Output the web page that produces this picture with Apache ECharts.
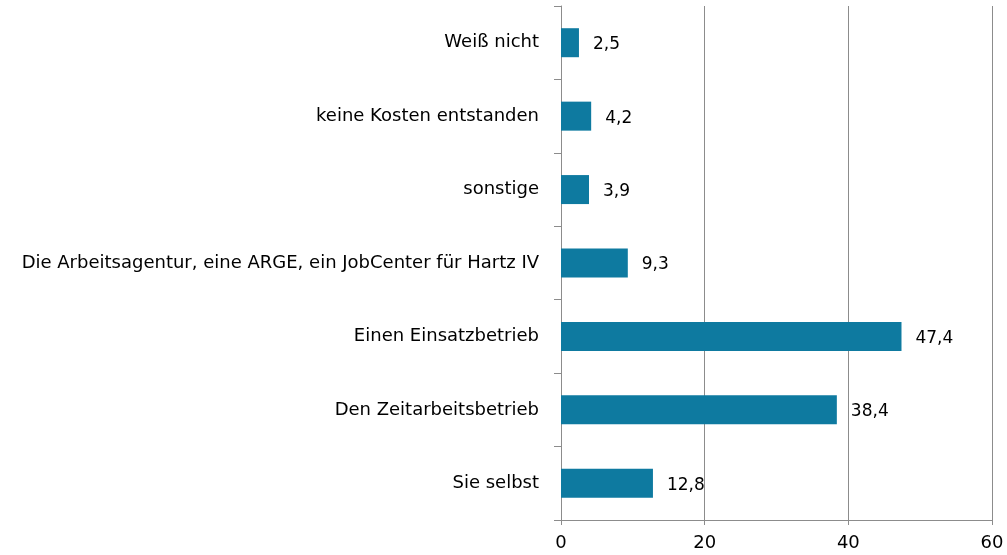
<!DOCTYPE html>
<html>
<head>
<meta charset="utf-8">
<script src="https://cdn.jsdelivr.net/npm/echarts@6/dist/echarts.min.js"></script>
<style>
html, body { margin: 0; padding: 0; background: #fff; }
#chart { width: 1007px; height: 555px; }
</style>
</head>
<body>
<div id="chart"></div>
<script>
// categories from bottom to top
var categories = ['Sie selbst', 'Den Zeitarbeitsbetrieb', 'Einen Einsatzbetrieb',
  'Die Arbeitsagentur, eine ARGE, ein JobCenter für Hartz IV',
  'sonstige', 'keine Kosten entstanden', 'Weiß nicht'];
var values = [12.8, 38.4, 47.4, 9.3, 3.9, 4.2, 2.5];
var axisTicks = [0, 20, 40, 60];

var font = '"DejaVu Sans", sans-serif';

var option = {
  animation: false,
  grid: { left: 561, right: 15, top: 6, bottom: 35, containLabel: false },
  xAxis: {
    type: 'value',
    min: axisTicks[0],
    max: axisTicks[axisTicks.length - 1],
    interval: axisTicks[1] - axisTicks[0],
    axisLine: { show: true, lineStyle: { color: '#8c8c8c', width: 1 } },
    axisTick: { show: true, length: 5, lineStyle: { color: '#8c8c8c' } },
    axisLabel: { color: '#000', fontSize: 18, fontFamily: font, margin: 14 },
    splitLine: { show: true, lineStyle: { color: '#8c8c8c', width: 1 } }
  },
  yAxis: {
    type: 'category',
    data: categories,
    axisLine: { show: true, lineStyle: { color: '#8c8c8c', width: 1 } },
    axisTick: { show: true, length: 7, lineStyle: { color: '#8c8c8c' } },
    axisLabel: { color: '#000', fontSize: 18, fontFamily: font, margin: 22 }
  },
  series: [{
    type: 'bar',
    data: values,
    barWidth: 29,
    itemStyle: { color: '#0e7aa0' },
    label: {
      show: true,
      position: 'right',
      distance: 14,
      offset: [0, 2],
      color: '#000',
      fontSize: 17,
      fontFamily: font,
      formatter: function (p) { return String(p.value).replace('.', ','); }
    }
  }]
};

echarts.init(document.getElementById('chart')).setOption(option);
</script>
</body>
</html>
